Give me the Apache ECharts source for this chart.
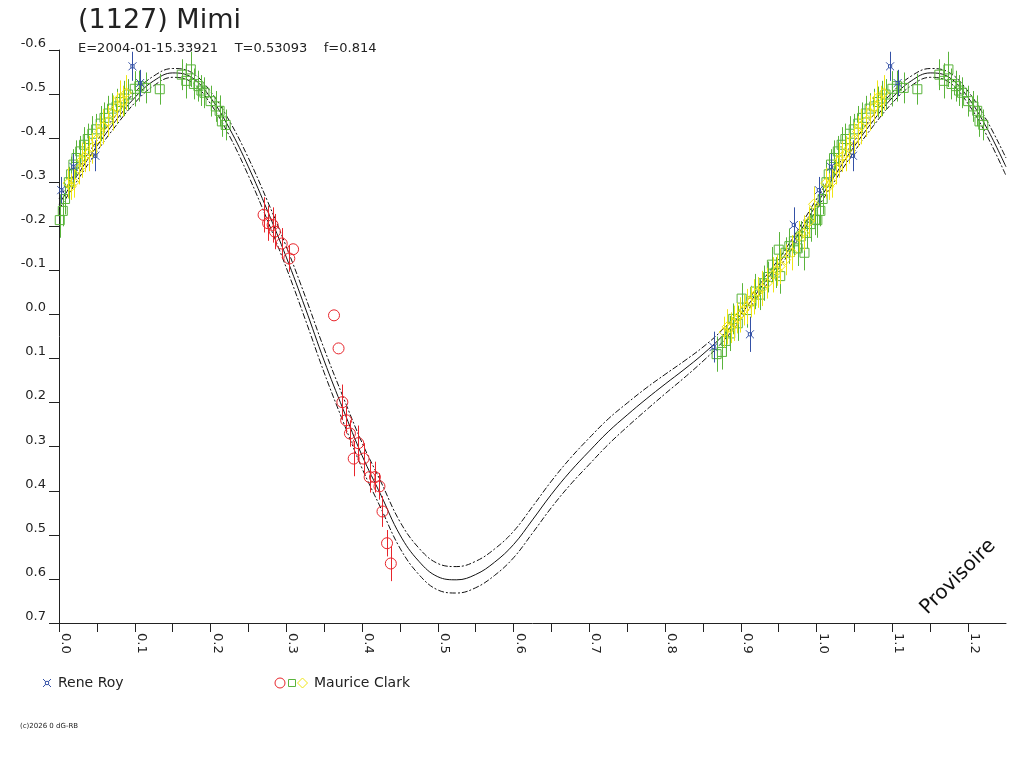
<!DOCTYPE html>
<html>
<head>
<meta charset="utf-8">
<title>(1127) Mimi</title>
<script src="https://cdn.jsdelivr.net/npm/echarts@6/dist/echarts.min.js"></script>
<style>
  html, body { margin: 0; padding: 0; background: #fff; }
  #chart { width: 1024px; height: 768px; }
</style>
</head>
<body>
<div id="chart"></div>
<script>
// fitted light curve, every 0.025 in phase
const curvePhase = [
  0.000, 0.025, 0.050, 0.075, 0.100, 0.125, 0.150, 0.175, 0.200, 0.225,
  0.250, 0.275, 0.300, 0.325, 0.350, 0.375, 0.400, 0.425, 0.450, 0.475,
  0.500, 0.525, 0.550, 0.575, 0.600, 0.625, 0.650, 0.675, 0.700, 0.725,
  0.750, 0.775, 0.800, 0.825, 0.850, 0.875, 0.900, 0.925, 0.950, 0.975,
  1.000, 1.025, 1.050, 1.075, 1.100, 1.125, 1.150, 1.175, 1.200, 1.225,
  1.250,
];
const curveFit = [
  -0.250, -0.318, -0.382, -0.440, -0.492, -0.530, -0.548, -0.538, -0.492, -0.422,
  -0.335, -0.236, -0.130, -0.015, 0.105, 0.215, 0.320, 0.410, 0.500, 0.560,
  0.595, 0.602, 0.590, 0.562, 0.522, 0.466, 0.408, 0.356, 0.310, 0.266,
  0.228, 0.192, 0.158, 0.125, 0.090, 0.050, 0.000, -0.058, -0.115, -0.180,
  -0.250, -0.318, -0.382, -0.440, -0.492, -0.530, -0.548, -0.538, -0.492, -0.422,
  -0.335,
];
const curveUpper = [
  -0.262, -0.330, -0.394, -0.452, -0.504, -0.541, -0.558, -0.549, -0.506, -0.439,
  -0.355, -0.258, -0.154, -0.041, 0.078, 0.187, 0.291, 0.380, 0.470, 0.530,
  0.565, 0.572, 0.560, 0.532, 0.492, 0.436, 0.378, 0.326, 0.280, 0.237,
  0.201, 0.167, 0.136, 0.106, 0.074, 0.036, -0.012, -0.069, -0.126, -0.191,
  -0.262, -0.330, -0.394, -0.452, -0.504, -0.541, -0.558, -0.549, -0.506, -0.439,
  -0.355,
];
const curveLower = [
  -0.238, -0.306, -0.370, -0.428, -0.480, -0.519, -0.538, -0.527, -0.478, -0.405,
  -0.315, -0.214, -0.106, 0.011, 0.132, 0.243, 0.349, 0.440, 0.530, 0.590,
  0.625, 0.632, 0.620, 0.592, 0.552, 0.496, 0.438, 0.386, 0.340, 0.295,
  0.255, 0.217, 0.180, 0.144, 0.106, 0.064, 0.012, -0.047, -0.104, -0.169,
  -0.238, -0.306, -0.370, -0.428, -0.480, -0.519, -0.538, -0.527, -0.478, -0.405,
  -0.315,
];

// observations: [phase, magnitude, error]
const reneRoy = [
  [0.003, -0.282, 0.03], [0.019, -0.335, 0.03], [0.048, -0.360, 0.035],
  [0.097, -0.563, 0.033], [0.107, -0.525, 0.03], [0.864, 0.074, 0.035],
  [0.912, 0.045, 0.04], [0.970, -0.203, 0.04],
];
const clarkRed = [
  [0.270, -0.226, 0.04], [0.276, -0.207, 0.04], [0.282, -0.203, 0.04],
  [0.285, -0.188, 0.04], [0.294, -0.161, 0.035], [0.304, -0.127, 0.03],
  [0.309, -0.148, 0], [0.363, 0.002, 0], [0.369, 0.077, 0],
  [0.374, 0.199, 0.04], [0.379, 0.240, 0.03], [0.384, 0.270, 0.03],
  [0.395, 0.292, 0.04], [0.389, 0.327, 0.04], [0.402, 0.327, 0.035],
  [0.410, 0.369, 0.035], [0.417, 0.369, 0.035], [0.423, 0.390, 0.03],
  [0.427, 0.447, 0.035], [0.433, 0.519, 0.03], [0.438, 0.565, 0.04],
];
const clarkGreen = [
  [0.001, -0.214, 0.04], [0.005, -0.235, 0.035], [0.008, -0.262, 0.035],
  [0.013, -0.300, 0.035], [0.016, -0.318, 0.04], [0.019, -0.340, 0.035],
  [0.023, -0.355, 0.04], [0.028, -0.370, 0.035], [0.033, -0.385, 0.04],
  [0.038, -0.398, 0.035], [0.044, -0.410, 0.04], [0.049, -0.420, 0.035],
  [0.055, -0.433, 0.04], [0.060, -0.446, 0.035], [0.065, -0.456, 0.04],
  [0.070, -0.467, 0.035], [0.076, -0.472, 0.04], [0.081, -0.482, 0.035],
  [0.086, -0.490, 0.04], [0.091, -0.499, 0.035], [0.100, -0.512, 0.04],
  [0.106, -0.518, 0.035], [0.115, -0.514, 0.035], [0.133, -0.511, 0.035],
  [0.162, -0.544, 0.035], [0.168, -0.530, 0.04], [0.174, -0.556, 0.04],
  [0.178, -0.523, 0.035], [0.184, -0.518, 0.035], [0.188, -0.508, 0.035],
  [0.192, -0.503, 0.035], [0.200, -0.484, 0.035], [0.207, -0.472, 0.035],
  [0.212, -0.462, 0.035], [0.215, -0.438, 0.035], [0.220, -0.430, 0.035],
  [0.868, 0.090, 0.04], [0.875, 0.085, 0.04], [0.880, 0.060, 0.035],
  [0.886, 0.043, 0.04], [0.890, 0.010, 0.035], [0.896, 0.020, 0.04],
  [0.901, -0.036, 0.035], [0.908, -0.010, 0.04], [0.914, -0.030, 0.035],
  [0.919, -0.052, 0.04], [0.925, -0.045, 0.035], [0.930, -0.071, 0.04],
  [0.936, -0.085, 0.035], [0.941, -0.113, 0.04], [0.946, -0.095, 0.035],
  [0.950, -0.147, 0.04], [0.952, -0.087, 0.04], [0.959, -0.140, 0.035],
  [0.964, -0.155, 0.04], [0.970, -0.166, 0.035], [0.975, -0.150, 0.04],
  [0.979, -0.177, 0.035], [0.984, -0.140, 0.04], [0.987, -0.185, 0.035],
  [0.992, -0.205, 0.04], [0.998, -0.215, 0.035],
];
const clarkYellow = [
  [0.012, -0.298, 0.035], [0.016, -0.290, 0.03], [0.020, -0.300, 0.035],
  [0.026, -0.330, 0.035], [0.030, -0.350, 0.04], [0.034, -0.358, 0.035],
  [0.039, -0.365, 0.04], [0.043, -0.377, 0.035], [0.049, -0.396, 0.04],
  [0.054, -0.415, 0.035], [0.058, -0.426, 0.04], [0.065, -0.438, 0.035],
  [0.071, -0.457, 0.04], [0.076, -0.470, 0.035], [0.080, -0.491, 0.04],
  [0.085, -0.484, 0.035], [0.089, -0.503, 0.04],
  [0.878, 0.040, 0.035], [0.882, 0.028, 0.04], [0.887, 0.030, 0.035],
  [0.891, 0.020, 0.04], [0.895, 0.008, 0.035], [0.899, 0.001, 0.04],
  [0.904, -0.010, 0.035], [0.908, -0.018, 0.04], [0.913, -0.028, 0.035],
  [0.917, -0.040, 0.04], [0.922, -0.050, 0.035], [0.928, -0.059, 0.04],
  [0.935, -0.071, 0.035], [0.943, -0.090, 0.04], [0.948, -0.100, 0.035],
  [0.952, -0.109, 0.04], [0.959, -0.124, 0.035], [0.968, -0.140, 0.04],
  [0.977, -0.177, 0.035], [0.983, -0.185, 0.04], [0.990, -0.210, 0.035],
  [0.996, -0.250, 0.04],
];

const PHASE_MAX = 1.25;
const FONT = "DejaVu Sans";
const INK = "#222";

const COL_BLUE = "#3451a6";
const COL_RED = "#e8262c";
const COL_GREEN = "#5ab43c";
const COL_YELLOW = "#f0e614";

const ROY_SYMBOL =
  "path://M0,0L3,3L7,3L10,0M7,3L7,7L10,10M7,7L3,7L0,10M3,7L3,3";

// each point is shown again one cycle later while it stays on the axis
function folded(pts) {
  const out = [];
  for (const p of pts) {
    out.push(p);
    if (p[0] + 1 <= PHASE_MAX) out.push([p[0] + 1, p[1], p[2]]);
  }
  return out;
}

function curve(values) {
  return curvePhase.map((p, i) => [p, values[i]]);
}

function errorBars(pts, color, z) {
  return {
    type: "custom",
    z,
    clip: true,
    silent: true,
    data: folded(pts),
    encode: { x: 0, y: 1 },
    renderItem: (params, api) => {
      const x = api.value(0);
      const y = api.value(1);
      const e = api.value(2);
      if (!e) return { type: "group", children: [] };
      const a = api.coord([x, y - e]);
      const b = api.coord([x, y + e]);
      const px = Math.round(a[0]) + 0.5;
      return {
        type: "line",
        shape: { x1: px, y1: a[1], x2: px, y2: b[1] },
        style: { stroke: color, lineWidth: 1 },
      };
    },
  };
}

function markers(pts, symbol, size, color, z) {
  return {
    type: "scatter",
    z,
    clip: true,
    silent: true,
    symbol,
    symbolSize: size,
    data: folded(pts).map((p) => [p[0], p[1]]),
    itemStyle: {
      color: "rgba(0,0,0,0)",
      borderColor: color,
      borderWidth: 1,
      opacity: 1,
    },
  };
}

function fitLine(values, dashed) {
  return {
    type: "line",
    z: 1,
    silent: true,
    smooth: 0.4,
    showSymbol: false,
    data: curve(values),
    lineStyle: {
      color: "#111",
      width: 1,
      type: dashed ? [6, 2, 2, 2] : "solid",
    },
  };
}

function fmt1(v) {
  const r = Math.round(v * 10) / 10;
  if (Math.abs(r) < 1e-9) return "0.0";
  return r.toFixed(1);
}

// legend marker for Rene Roy: small square with corner spikes
function royLegendMark(cx, cy) {
  const s = 1.6;
  const o = 4;
  const st = { stroke: COL_BLUE, lineWidth: 1 };
  return {
    type: "group",
    children: [
      { type: "rect", shape: { x: cx - s, y: cy - s, width: 2 * s, height: 2 * s }, style: { fill: "none", ...st } },
      { type: "line", shape: { x1: cx - o, y1: cy - o, x2: cx - s, y2: cy - s }, style: st },
      { type: "line", shape: { x1: cx + o, y1: cy - o, x2: cx + s, y2: cy - s }, style: st },
      { type: "line", shape: { x1: cx - o, y1: cy + o, x2: cx - s, y2: cy + s }, style: st },
      { type: "line", shape: { x1: cx + o, y1: cy + o, x2: cx + s, y2: cy + s }, style: st },
    ],
  };
}

const chart = echarts.init(document.getElementById("chart"));

const option = {
  animation: false,
  backgroundColor: "#fff",
  grid: { left: 59, right: 18, top: 50, bottom: 145, containLabel: false },
  xAxis: {
    type: "value",
    min: 0,
    max: PHASE_MAX,
    interval: 0.05,
    axisLine: { show: true, onZero: false, lineStyle: { color: INK, width: 1 } },
    axisTick: { show: true, length: 9, lineStyle: { color: INK } },
    splitLine: { show: false },
    axisLabel: {
      rotate: -90,
      margin: 10,
      color: INK,
      fontFamily: FONT,
      fontSize: 13,
      verticalAlign: "bottom",
      showMaxLabel: false,
      formatter: (v) => {
        const k = v * 10;
        return Math.abs(k - Math.round(k)) < 1e-6 ? fmt1(v) : "";
      },
    },
  },
  yAxis: {
    type: "value",
    inverse: true,
    min: -0.6,
    max: 0.7,
    interval: 0.1,
    axisLine: { show: true, onZero: false, lineStyle: { color: INK, width: 1 } },
    axisTick: { show: true, length: 10, lineStyle: { color: INK } },
    splitLine: { show: false },
    axisLabel: {
      margin: 13,
      color: INK,
      fontFamily: FONT,
      fontSize: 13,
      verticalAlign: "bottom",
      formatter: fmt1,
    },
  },
  graphic: [
    {
      type: "text",
      x: 78,
      y: 21,
      style: {
        text: "(1127) Mimi",
        font: `27px '${FONT}'`,
        fill: INK,
        verticalAlign: "middle",
      },
    },
    {
      type: "text",
      x: 78,
      y: 49,
      style: {
        text: "E=2004-01-15.33921    T=0.53093    f=0.814",
        font: `13px '${FONT}'`,
        fill: INK,
        verticalAlign: "middle",
      },
    },
    {
      type: "text",
      x: 958,
      y: 577,
      rotation: Math.PI / 4,
      style: {
        text: "Provisoire",
        font: `20px '${FONT}'`,
        fill: "#111",
        align: "center",
        verticalAlign: "middle",
      },
    },
    // legend
    royLegendMark(47, 683),
    {
      type: "text",
      x: 58,
      y: 683,
      style: { text: "Rene Roy", font: `14px '${FONT}'`, fill: INK, verticalAlign: "middle" },
    },
    {
      type: "circle",
      shape: { cx: 280, cy: 683, r: 5 },
      style: { fill: "none", stroke: COL_RED, lineWidth: 1 },
    },
    {
      type: "rect",
      shape: { x: 288.5, y: 679.5, width: 7, height: 7 },
      style: { fill: "none", stroke: COL_GREEN, lineWidth: 1 },
    },
    {
      type: "polygon",
      shape: { points: [[302.5, 678], [307.5, 683], [302.5, 688], [297.5, 683]] },
      style: { fill: "none", stroke: COL_YELLOW, lineWidth: 1 },
    },
    {
      type: "text",
      x: 314,
      y: 683,
      style: { text: "Maurice Clark", font: `14px '${FONT}'`, fill: INK, verticalAlign: "middle" },
    },
    {
      type: "text",
      x: 20,
      y: 726,
      style: { text: "(c)2026 0 dG-RB", font: `7px '${FONT}'`, fill: INK, verticalAlign: "middle" },
    },
  ],
  series: [
    fitLine(curveUpper, true),
    fitLine(curveLower, true),
    fitLine(curveFit, false),
    errorBars(clarkGreen, COL_GREEN, 2),
    markers(clarkGreen, "rect", 9, COL_GREEN, 2),
    errorBars(clarkYellow, COL_YELLOW, 3),
    markers(clarkYellow, "diamond", 10, COL_YELLOW, 3),
    errorBars(clarkRed, COL_RED, 3),
    markers(clarkRed, "circle", 11, COL_RED, 3),
    errorBars(reneRoy, COL_BLUE, 4),
    markers(reneRoy, ROY_SYMBOL, 8, COL_BLUE, 4),
  ],
};

chart.setOption(option);
</script>
</body>
</html>
